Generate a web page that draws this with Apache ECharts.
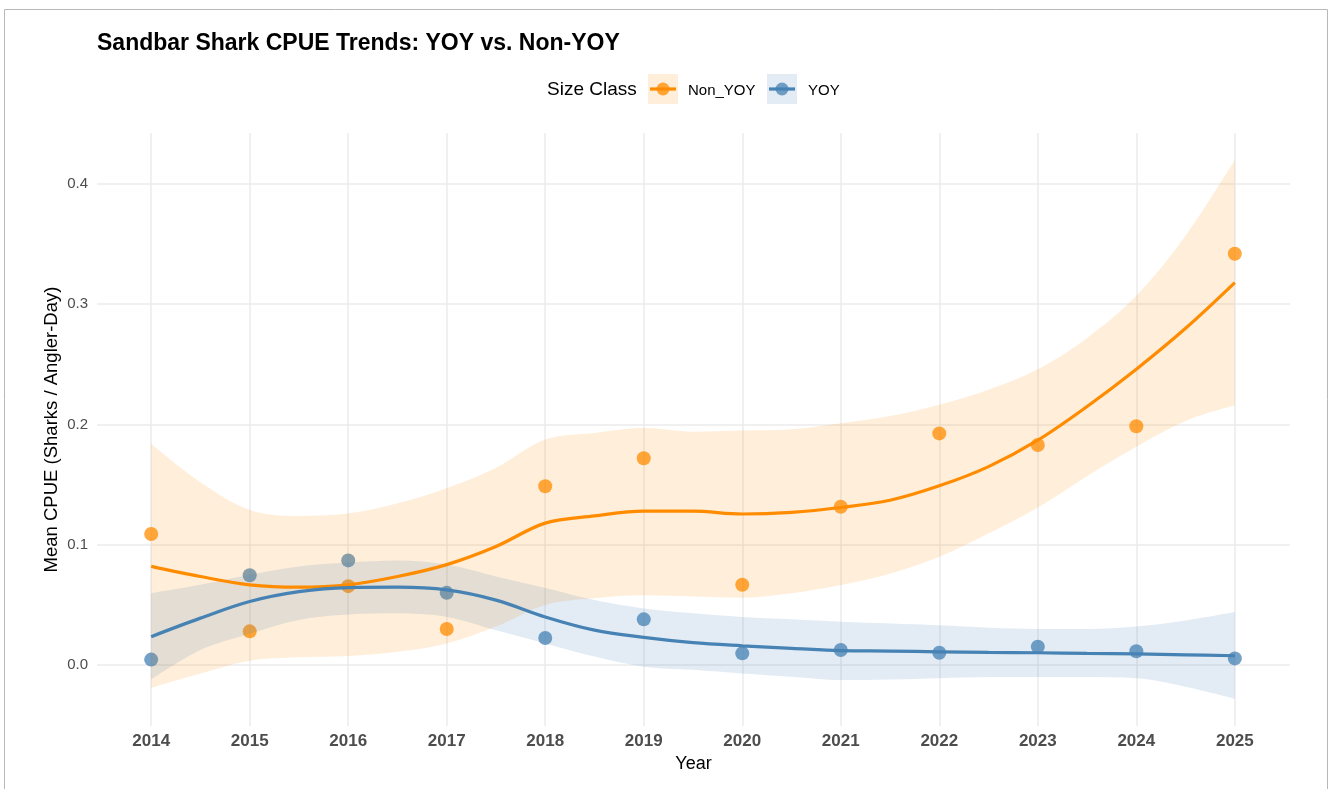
<!DOCTYPE html>
<html>
<head>
<meta charset="utf-8">
<title>Sandbar Shark CPUE Trends</title>
<script src="https://cdn.jsdelivr.net/npm/echarts@6/dist/echarts.min.js"></script>
<style>
  html, body { margin: 0; padding: 0; background: #fff; }
  #chart { width: 1330px; height: 789px; }
</style>
</head>
<body>
<div id="chart"></div>
<script>
// yearly observed mean CPUE
var years = [2014, 2015, 2016, 2017, 2018, 2019, 2020, 2021, 2022, 2023, 2024, 2025];
var nonYoyPts = [0.109, 0.028, 0.0656, 0.030, 0.1486, 0.172, 0.0667, 0.1316, 0.1926, 0.183, 0.1985, 0.342];
var yoyPts = [0.0045, 0.0747, 0.087, 0.060, 0.0225, 0.038, 0.0097, 0.0125, 0.0102, 0.0152, 0.0114, 0.0055];

var fitX = [2014, 2014.5, 2015, 2015.5, 2016, 2016.5, 2017, 2017.5, 2018, 2018.5, 2019, 2019.5,
            2020, 2020.5, 2021, 2021.5, 2022, 2022.5, 2023, 2023.5, 2024, 2024.5, 2025];
var nonYoyFit = [0.082, 0.0736, 0.0667, 0.0647, 0.0667, 0.0736, 0.0835, 0.0986, 0.118, 0.124, 0.128, 0.128,
                 0.1256, 0.127, 0.131, 0.137, 0.149, 0.165, 0.187, 0.215, 0.246, 0.280, 0.318];
var nonYoyHi = [0.184, 0.152, 0.129, 0.124, 0.126, 0.1345, 0.147, 0.164, 0.1875, 0.193, 0.197, 0.194,
                0.195, 0.196, 0.201, 0.207, 0.2165, 0.229, 0.246, 0.272, 0.307, 0.357, 0.420];
var nonYoyLo = [-0.019, -0.007, 0.0036, 0.0064, 0.0075, 0.011, 0.018, 0.032, 0.050, 0.0555, 0.058, 0.057,
                0.056, 0.0596, 0.0665, 0.076, 0.090, 0.1095, 0.131, 0.157, 0.1815, 0.203, 0.216];
var yoyFit = [0.0236, 0.039, 0.0528, 0.061, 0.0644, 0.0647, 0.0625, 0.054, 0.040, 0.029, 0.023, 0.0186,
              0.016, 0.0139, 0.0119, 0.0116, 0.011, 0.0105, 0.0102, 0.0097, 0.0092, 0.0085, 0.0077];
var yoyHi = [0.0597, 0.0667, 0.075, 0.082, 0.0853, 0.087, 0.0835, 0.0736, 0.064, 0.054, 0.047, 0.043,
             0.040, 0.038, 0.036, 0.0345, 0.033, 0.031, 0.030, 0.030, 0.032, 0.037, 0.044];
var yoyLo = [-0.012, 0.0125, 0.026, 0.0375, 0.042, 0.043, 0.040, 0.029, 0.018, 0.007, -0.0014, -0.004,
             -0.007, -0.0097, -0.0125, -0.012, -0.011, -0.010, -0.010, -0.010, -0.011, -0.018, -0.028];

var yTicks = [0, 0.1, 0.2, 0.3, 0.4];

var ORANGE = '#FF8C00';
var BLUE = '#4682B4';
var GRID = '#ebebeb';
var SMOOTH = 0.35;

function pairs(xs, ys) {
    var out = [];
    for (var i = 0; i < xs.length; i++) out.push([xs[i], ys[i]]);
    return out;
}
// value first, year second -> stack works on the y value, not on x
function flipped(xs, ys) {
    var out = [];
    for (var i = 0; i < xs.length; i++) out.push([ys[i], xs[i]]);
    return out;
}
function diff(hi, lo) {
    var out = [];
    for (var i = 0; i < hi.length; i++) out.push(+(hi[i] - lo[i]).toFixed(5));
    return out;
}

// ribbon = invisible lower line + stacked band on top of it
function ribbon(name, lo, hi, color) {
    return [{
        name: name + '_lo',
        type: 'line',
        stack: name,
        stackStrategy: 'all',
        encode: {x: 1, y: 0},
        smooth: SMOOTH,
        showSymbol: false,
        silent: true,
        lineStyle: {opacity: 0},
        data: flipped(fitX, lo)
    }, {
        name: name + '_band',
        type: 'line',
        stack: name,
        stackStrategy: 'all',
        encode: {x: 1, y: 0},
        smooth: SMOOTH,
        showSymbol: false,
        silent: true,
        lineStyle: {opacity: 0},
        areaStyle: {color: color, opacity: 0.15},
        data: flipped(fitX, diff(hi, lo))
    }];
}

var gridLinesX = years.map(function (y) { return {xAxis: y}; });
var gridLinesY = yTicks.map(function (v) { return {yAxis: v}; });

var series = [{
    // panel grid lines
    name: 'grid',
    type: 'line',
    data: [],
    silent: true,
    z: 0,
    markLine: {
        silent: true,
        z: 0,
        symbol: ['none', 'none'],
        label: {show: false},
        lineStyle: {color: GRID, width: 1.5, type: 'solid'},
        data: gridLinesX.concat(gridLinesY)
    }
}];
series = series.concat(ribbon('Non_YOY', nonYoyLo, nonYoyHi, ORANGE));
series.push({
    name: 'Non_YOY fit',
    type: 'line',
    smooth: SMOOTH,
    showSymbol: false,
    lineStyle: {color: ORANGE, width: 3.2},
    data: pairs(fitX, nonYoyFit)
});
series = series.concat(ribbon('YOY', yoyLo, yoyHi, BLUE));
series.push({
    name: 'YOY fit',
    type: 'line',
    smooth: SMOOTH,
    showSymbol: false,
    lineStyle: {color: BLUE, width: 3.2},
    data: pairs(fitX, yoyFit)
});
series.push({
    name: 'Non_YOY',
    type: 'scatter',
    symbolSize: 14,
    itemStyle: {color: ORANGE, opacity: 0.75},
    data: pairs(years, nonYoyPts)
});
series.push({
    name: 'YOY',
    type: 'scatter',
    symbolSize: 14,
    itemStyle: {color: BLUE, opacity: 0.75},
    data: pairs(years, yoyPts)
});

var FONT = '"Liberation Sans", Arial, Helvetica, sans-serif';

var option = {
    animation: false,
    backgroundColor: '#fff',
    textStyle: {fontFamily: FONT},
    title: {
        text: 'Sandbar Shark CPUE Trends: YOY vs. Non-YOY',
        left: 97,
        top: 32,
        padding: 0,
        textStyle: {fontFamily: FONT, fontSize: 23, fontWeight: 'bold', color: '#000'}
    },
    grid: {left: 97, right: 40, top: 133, bottom: 63, containLabel: false},
    xAxis: {
        type: 'value',
        min: 2013.45,
        max: 2025.56,
        name: 'Year',
        nameLocation: 'middle',
        nameGap: 28,
        nameTextStyle: {fontFamily: FONT, fontSize: 18, color: '#000'},
        axisLine: {show: false},
        axisTick: {show: false},
        splitLine: {show: false},
        axisLabel: {
            customValues: years,
            formatter: function (v) { return String(v); },
            fontFamily: FONT,
            fontSize: 17,
            fontWeight: 'bold',
            color: '#4d4d4d',
            margin: 7
        }
    },
    yAxis: {
        type: 'value',
        min: -0.0507,
        max: 0.4424,
        name: 'Mean CPUE (Sharks / Angler-Day)',
        nameLocation: 'middle',
        nameGap: 36,
        nameMoveOverlap: false,
        nameTextStyle: {fontFamily: FONT, fontSize: 18.5, color: '#000'},
        axisLine: {show: false},
        axisTick: {show: false},
        splitLine: {show: false},
        axisLabel: {
            customValues: yTicks,
            formatter: function (v) { return v.toFixed(1); },
            fontFamily: FONT,
            fontSize: 15,
            color: '#4d4d4d',
            margin: 9
        }
    },
    graphic: [
        // outer frame
        {type: 'rect', shape: {x: 4.5, y: 9.5, width: 1323, height: 800}, style: {fill: 'none', stroke: '#b8b8b8', lineWidth: 1}, silent: true},
        // legend
        {type: 'text', left: 547, top: 80, style: {text: 'Size Class', fontFamily: FONT, fontSize: 19, fill: '#000'}},
        {type: 'rect', shape: {x: 648, y: 74, width: 30, height: 30}, style: {fill: ORANGE, opacity: 0.15}},
        {type: 'line', shape: {x1: 650, y1: 89, x2: 676, y2: 89}, style: {stroke: ORANGE, lineWidth: 3.2}},
        {type: 'circle', shape: {cx: 663, cy: 89, r: 6.5}, style: {fill: ORANGE, opacity: 0.75}},
        {type: 'text', left: 688, top: 83, style: {text: 'Non_YOY', fontFamily: FONT, fontSize: 15, fill: '#000'}},
        {type: 'rect', shape: {x: 767, y: 74, width: 30, height: 30}, style: {fill: BLUE, opacity: 0.15}},
        {type: 'line', shape: {x1: 769, y1: 89, x2: 795, y2: 89}, style: {stroke: BLUE, lineWidth: 3.2}},
        {type: 'circle', shape: {cx: 782, cy: 89, r: 6.5}, style: {fill: BLUE, opacity: 0.75}},
        {type: 'text', left: 808, top: 83, style: {text: 'YOY', fontFamily: FONT, fontSize: 15, fill: '#000'}}
    ],
    series: series
};

var chart = echarts.init(document.getElementById('chart'));
chart.setOption(option);
</script>
</body>
</html>
